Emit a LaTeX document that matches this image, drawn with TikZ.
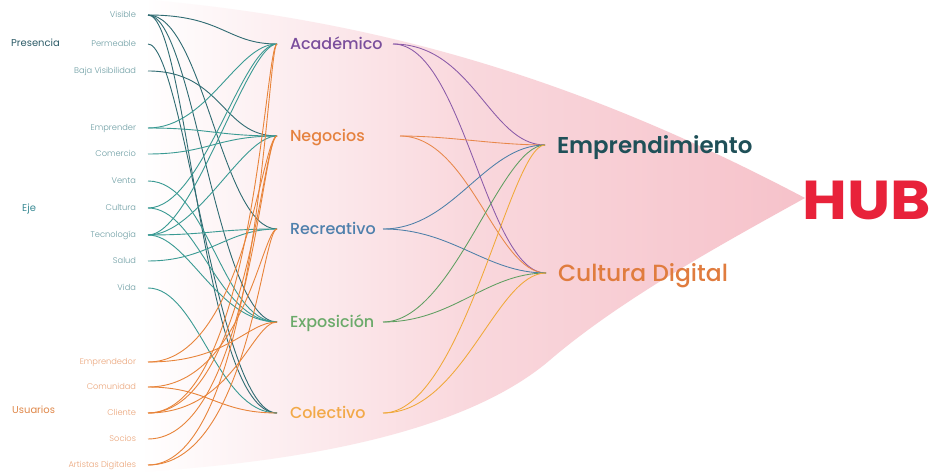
\documentclass[tikz,border=0pt]{standalone}
\usepackage{graphicx}
\usepackage{fontspec}
\setmainfont{Poppins}
\newfontfamily\plight{Poppins}[UprightFont=* Light]
\newfontfamily\pmed{Poppins}[UprightFont=* Medium]
\newfontfamily\psemi{Poppins}[UprightFont=* SemiBold]
\newfontfamily\pbold{Poppins}[UprightFont=* Bold]
\definecolor{presC}{HTML}{2F6B72}
\definecolor{ejeC}{HTML}{3A9A93}
\definecolor{usuC}{HTML}{E8843A}
\definecolor{presT}{HTML}{2D5C68}
\definecolor{ejeT}{HTML}{3C8C96}
\definecolor{itemT}{HTML}{6E9EA4}
\definecolor{usuT}{HTML}{EBA57A}
\definecolor{usuG}{HTML}{E0884A}
\definecolor{acaC}{HTML}{7A4E9C}
\definecolor{negC}{HTML}{E5823F}
\definecolor{recC}{HTML}{4F80AC}
\definecolor{expC}{HTML}{6BAA6A}
\definecolor{colC}{HTML}{F2A948}
\definecolor{acaL}{HTML}{8A5AA8}
\definecolor{negL}{HTML}{E8874A}
\definecolor{recL}{HTML}{4D7FA8}
\definecolor{expL}{HTML}{5E9E60}
\definecolor{colL}{HTML}{F0A838}
\definecolor{empC}{HTML}{1F5058}
\definecolor{culC}{HTML}{E07C3E}
\definecolor{hubC}{HTML}{E8223A}
\definecolor{pinkC}{HTML}{F6C2CA}
\tikzset{
  item/.style={font={\plight\fontsize{8.3}{9}\selectfont}, text=itemT, anchor=east,
    inner xsep=6bp, outer xsep=6bp, inner ysep=0pt, text height=5.8bp, text depth=0pt},
  uitem/.style={item, text=usuT},
  grp/.style={font={\fontsize{10}{12}\selectfont}, anchor=west, inner sep=0pt,
    text height=7bp, text depth=0pt},
  mid/.style={font={\pmed\fontsize{16}{18}\selectfont}, anchor=west, inner xsep=0pt,
    outer xsep=13bp, inner ysep=0pt, text height=11.2bp, text depth=0pt},
  big/.style={anchor=west, inner xsep=0pt,
    outer xsep=12bp, inner ysep=0pt, text height=16.2bp, text depth=0pt},
  lk/.style={line width=0.9bp},
  pl/.style={lk, draw=presC},
  el/.style={lk, draw=ejeC},
  ul/.style={lk, draw=usuC},
  rl/.style={line width=0.85bp},
}
\begin{document}
\begin{tikzpicture}[x=1bp,y=-1bp]
\useasboundingbox (0,0) rectangle (929,472);
\fill[white] (0,0) rectangle (929,472);
% funnel background
\shade[left color=white, right color=pinkC, middle color=pinkC!65]
  (150,0) .. controls (400,22) and (600,90) .. (805,198)
  .. controls (720,245) and (620,300) .. (550,360)
  .. controls (494,408) and (380,457) .. (140,472) -- cycle;

% group labels
\node[grp, text=presT] (gpres) at (11,43) {Presencia};
\node[grp, text=ejeT] (geje) at (22,208) {Eje};
\node[grp, text=usuG] (gusu) at (12,410) {Usuarios};

% left items
\node[item] (vis) at (148,15) {Visible};
\node[item] (per) at (148,44) {Permeable};
\node[item] (baja) at (148,71) {Baja Visibilidad};
\node[item] (empr) at (148,128) {Emprender};
\node[item] (com) at (148,154) {Comercio};
\node[item] (ven) at (148,181) {Venta};
\node[item] (cul) at (148,208) {Cultura};
\node[item] (tec) at (148,235) {Tecnología};
\node[item] (sal) at (148,261) {Salud};
\node[item] (vid) at (148,288) {Vida};
\node[uitem] (empd) at (148,362) {Emprendedor};
\node[uitem] (comu) at (148,387) {Comunidad};
\node[uitem] (cli) at (148,413) {Cliente};
\node[uitem] (soc) at (148,439) {Socios};
\node[uitem] (art) at (148,465) {Artistas Digitales};

% middle nodes
\node[mid, text=acaC] (aca) at (277,44) {Académico};
\node[mid, text=negC] (neg) at (277,136) {Negocios};
\node[mid, text=recC] (rec) at (277,229) {Recreativo};
\node[mid, text=expC] (exp) at (277,322) {Exposición};
\node[mid, text=colC] (col) at (277,413) {Colectivo};
\coordinate (acaO) at (393,44);
\coordinate (negO) at (400,136);
\coordinate (recO) at (383,229);
\coordinate (expO) at (383,322);
\coordinate (colO) at (383,413);

% right nodes
\node[big, text=empC, font={\psemi\fontsize{23}{27}\selectfont}] (emp) at (545,145) {Emprendimiento};
\node[big, text=culC, font={\pmed\fontsize{23.5}{27}\selectfont}] (cdig) at (546,273) {Cultura Digital};
\node[anchor=west, inner sep=0pt, text=hubC, font={\pbold\fontsize{55}{60}\selectfont},
  text height=38.5bp, text depth=0pt] (hub) at (802,200) {\scalebox{1.12}[1]{HUB}};

% Presencia connectors
\draw[pl] (vis.east) .. controls +(75,0) and +(-50,0) .. (aca.west);
\draw[pl] (vis.east) .. controls +(55,0) and +(-55,0) .. (rec.west);
\draw[pl] (vis.east) .. controls +(45,0) and +(-60,0) .. (exp.west);
\draw[pl] (vis.east) .. controls +(40,0) and +(-75,0) .. (col.west);
\draw[pl] (per.east) .. controls +(35,0) and +(-60,0) .. (col.west);
\draw[pl] (baja.east) .. controls +(75,0) and +(-55,0) .. (neg.west);

% Eje connectors
\draw[el] (empr.east) .. controls +(60,0) and +(-40,0) .. (aca.west);
\draw[el] (empr.east) .. controls +(60,0) and +(-60,0) .. (neg.west);
\draw[el] (com.east) .. controls +(60,0) and +(-60,0) .. (neg.west);
\draw[el] (ven.east) .. controls +(60,0) and +(-55,0) .. (exp.west);
\draw[el] (cul.east) .. controls +(55,0) and +(-35,0) .. (aca.west);
\draw[el] (cul.east) .. controls +(50,0) and +(-60,0) .. (exp.west);
\draw[el] (tec.east) .. controls +(45,0) and +(-30,0) .. (aca.west);
\draw[el] (tec.east) .. controls +(50,0) and +(-35,0) .. (neg.west);
\draw[el] (tec.east) .. controls +(60,0) and +(-60,0) .. (rec.west);
\draw[el] (tec.east) .. controls +(40,0) and +(-60,0) .. (exp.west);
\draw[el] (sal.east) .. controls +(60,0) and +(-50,0) .. (rec.west);
\draw[el] (vid.east) .. controls +(50,0) and +(-60,0) .. (col.west);

% Usuarios connectors
\draw[ul] (empd.east) .. controls +(95,0) and +(-15,0) .. (neg.west);
\draw[ul] (empd.east) .. controls +(80,0) and +(-30,0) .. (exp.west);
\draw[ul] (comu.east) .. controls +(95,0) and +(-15,0) .. (rec.west);
\draw[ul] (comu.east) .. controls +(60,0) and +(-60,0) .. (col.west);
\draw[ul] (cli.east) .. controls +(105,0) and +(-12,0) .. (aca.west);
\draw[ul] (cli.east) .. controls +(100,0) and +(-15,0) .. (neg.west);
\draw[ul] (cli.east) .. controls +(85,0) and +(-25,0) .. (exp.west);
\draw[ul] (soc.east) .. controls +(100,0) and +(-15,0) .. (neg.west);
\draw[ul] (art.east) .. controls +(110,0) and +(-10,0) .. (aca.west);
\draw[ul] (art.east) .. controls +(100,0) and +(-15,0) .. (rec.west);

% right connectors
\draw[rl, draw=acaL] (acaO) .. controls +(80,0) and +(-55,0) .. (emp.west);
\draw[rl, draw=acaL] (acaO) .. controls +(70,0) and +(-60,0) .. (cdig.west);
\draw[rl, draw=negL] (negO) .. controls +(50,0) and +(-50,0) .. (emp.west);
\draw[rl, draw=negL] (negO) .. controls +(70,0) and +(-50,0) .. (cdig.west);
\draw[rl, draw=recL] (recO) .. controls +(70,0) and +(-60,0) .. (emp.west);
\draw[rl, draw=recL] (recO) .. controls +(70,0) and +(-60,0) .. (cdig.west);
\draw[rl, draw=expL] (expO) .. controls +(70,0) and +(-45,0) .. (emp.west);
\draw[rl, draw=expL] (expO) .. controls +(70,0) and +(-60,0) .. (cdig.west);
\draw[rl, draw=colL] (colO) .. controls +(80,0) and +(-35,0) .. (emp.west);
\draw[rl, draw=colL] (colO) .. controls +(80,0) and +(-50,0) .. (cdig.west);
\end{tikzpicture}
\end{document}
